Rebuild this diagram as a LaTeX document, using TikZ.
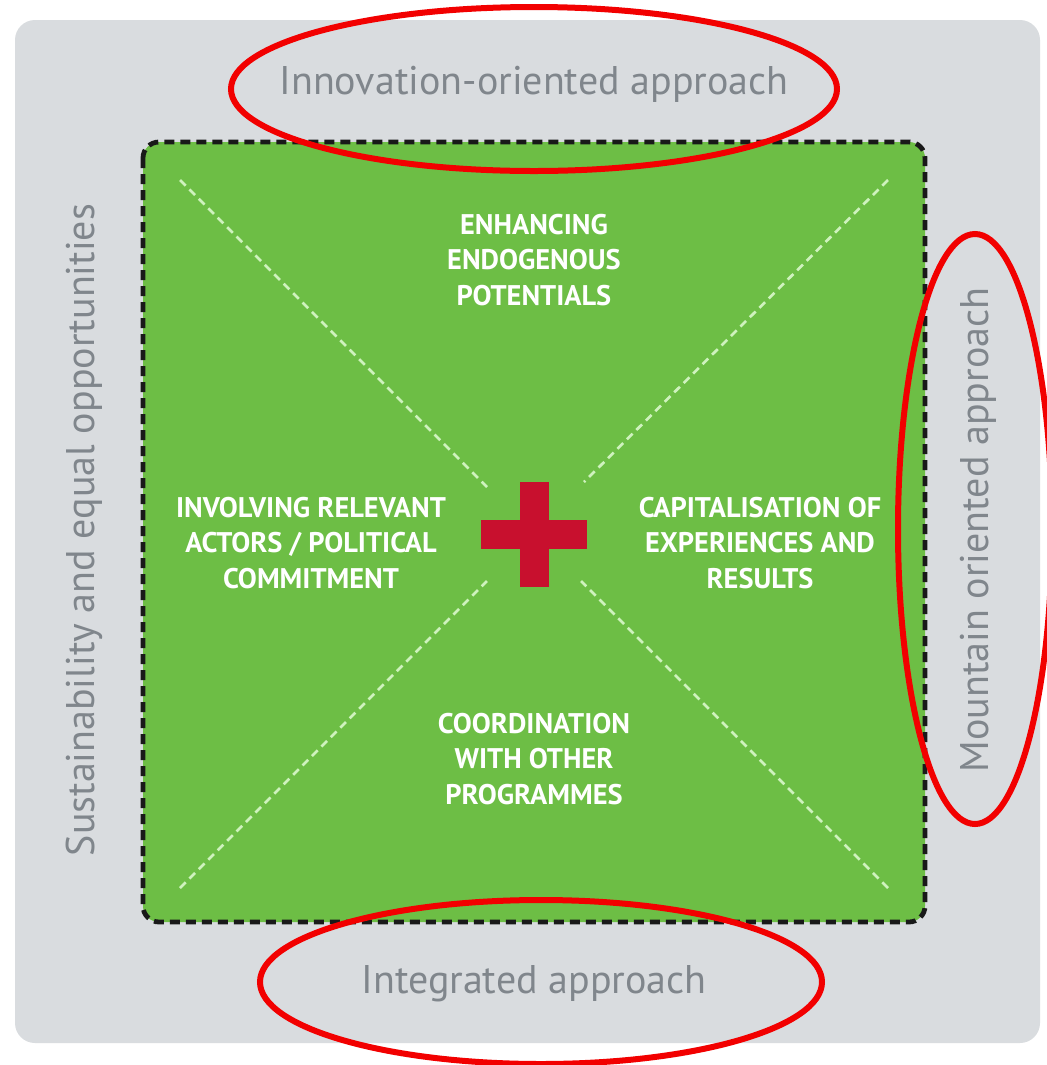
\documentclass[tikz,border=0pt]{standalone}
\usepackage{fontspec}
\setmainfont{PT Sans}
\definecolor{panelgray}{HTML}{D9DCDF}
\definecolor{labelgray}{HTML}{80868C}
\definecolor{leafgreen}{HTML}{6DBE45}
\definecolor{diaggreen}{HTML}{CFF2BE}
\definecolor{crossred}{HTML}{C8102E}
\definecolor{markred}{HTML}{F20000}
\begin{document}
\begin{tikzpicture}[x=0.75pt,y=-0.75pt,
  outer/.style={fill=panelgray,draw=none,rounded corners=15pt},
  inner/.style={fill=leafgreen,draw=black!90,line width=3.6pt,dash pattern=on 7.5pt off 4.5pt,rounded corners=12pt},
  diag/.style={draw=diaggreen,line width=2pt,dash pattern=on 6pt off 4pt},
  grey label/.style={text=labelgray,font=\fontsize{30}{33}\selectfont},
  white label/.style={text=white,font=\bfseries\fontsize{21.3}{26.5}\selectfont,align=center},
  redmark/.style={draw=markred,line width=4.5pt}]
\useasboundingbox (0,0) rectangle (1047,1065);
\fill[white] (0,0) rectangle (1047,1065);
\path[outer] (15,20) rectangle (1040,1043);
\path[inner] (143,142) rectangle (925,922);
% diagonals
\coordinate (d1a) at (180,180); \coordinate (d1b) at (487,487);
\coordinate (d2a) at (888,180); \coordinate (d2b) at (584,482);
\coordinate (d3a) at (180,888); \coordinate (d3b) at (487,581);
\coordinate (d4a) at (888,888); \coordinate (d4b) at (581,581);
\draw[diag] (d1a) -- (d1b);
\draw[diag] (d2a) -- (d2b);
\draw[diag] (d3a) -- (d3b);
\draw[diag] (d4a) -- (d4b);
% cross
\fill[crossred] (481,520) rectangle (587,549);
\fill[crossred] (520,482) rectangle (549,587);
% labels
\node[white label] (top) at (534,260) {ENHANCING\\ENDOGENOUS\\POTENTIALS};
\node[white label] (left) at (311,543) {INVOLVING RELEVANT\\ACTORS / POLITICAL\\COMMITMENT};
\node[white label] (right) at (760,543) {CAPITALISATION OF\\EXPERIENCES AND\\RESULTS};
\node[white label] (bottom) at (534,759) {COORDINATION\\WITH OTHER\\PROGRAMMES};
\node[grey label] (north) at (534,84) {Innovation-oriented approach};
\node[grey label] (south) at (534,984) {Integrated approach};
\node[grey label,rotate=90] (west) at (84,530) {Sustainability and equal opportunities};
\node[grey label,rotate=90] (east) at (978,530) {Mountain oriented approach};
% red marks
\draw[redmark] (534,89) ellipse (303 and 82);
\draw[redmark] (541,982) ellipse (281 and 82);
\draw[redmark] (975,529) ellipse (77 and 295);
\end{tikzpicture}
\end{document}
